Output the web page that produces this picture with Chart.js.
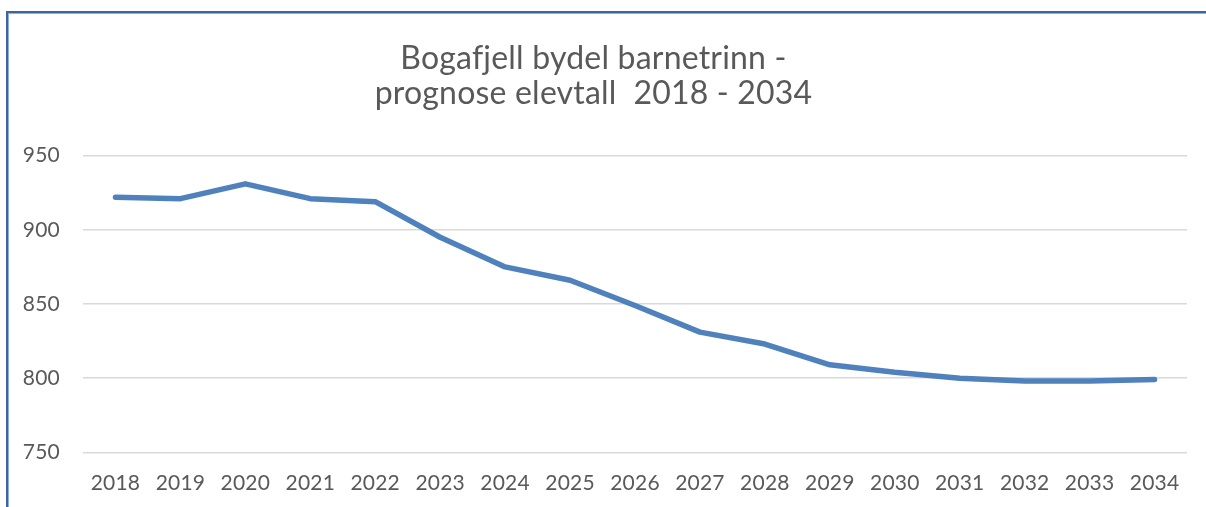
<!DOCTYPE html>
<html>
<head>
<meta charset="utf-8">
<script src="https://cdn.jsdelivr.net/npm/chart.js@4.4.1/dist/chart.umd.min.js"></script>
<style>
  html, body { margin: 0; padding: 0; background: #ffffff; overflow: hidden; }
  #frame { position: absolute; left: 6px; top: 11px; width: 1400px; height: 700px;
           border-left: 2px solid #3d679c; border-top: 2px solid #3d679c; box-shadow: inset 1px 1px 0 #8fb0d6; }
  #wrap { position: absolute; left: 0; top: 0; width: 1206px; height: 507px; }
</style>
</head>
<body>
<div id="frame"></div>
<div id="wrap"><canvas id="c" width="1206" height="507"></canvas></div>
<script>
const years = ['2018','2019','2020','2021','2022','2023','2024','2025','2026','2027','2028','2029','2030','2031','2032','2033','2034'];
const pupils = [922, 921, 931, 921, 919, 895, 875, 866, 849, 831, 823, 809, 804, 800, 798, 798, 799];
const titleLines = ['Bogafjell bydel barnetrinn -', 'prognose elevtall  2018 - 2034'];
const yMin = 750, yMax = 950, yStep = 50;

const noLigatures = {
  id: 'noLigatures',
  beforeDraw(chart) { if ('letterSpacing' in chart.ctx) chart.ctx.letterSpacing = '0.2px'; }
};

new Chart(document.getElementById('c'), {
  type: 'line',
  data: {
    labels: years,
    datasets: [{
      label: 'Elevtall',
      data: pupils,
      borderColor: '#4f81bd',
      backgroundColor: '#4f81bd',
      borderWidth: 5.5,
      pointRadius: 0,
      pointHoverRadius: 0,
      tension: 0,
      borderCapStyle: 'round',
      borderJoinStyle: 'round',
      fill: false
    }]
  },
  plugins: [noLigatures],
  options: {
    responsive: false,
    animation: false,
    layout: { padding: { left: 0, right: 19, top: 0, bottom: 0 } },
    plugins: {
      legend: { display: false },
      tooltip: { enabled: false },
      title: {
        display: true,
        text: titleLines,
        color: '#595959',
        font: { family: 'Lato', size: 32, weight: 'normal', lineHeight: 1.09 },
        padding: { top: 41, bottom: 44.9 }
      }
    },
    scales: {
      x: {
        offset: true,
        grid: { display: false },
        border: { display: false },
        ticks: { color: '#595959', font: { family: 'Lato', size: 21 }, padding: 10, maxRotation: 0, autoSkip: false },
        afterFit: (s) => { s.height = 54.7; }
      },
      y: {
        min: yMin, max: yMax,
        grid: { color: '#d9d9d9', lineWidth: 1.5, drawTicks: false },
        border: { display: false },
        ticks: { stepSize: yStep, color: '#595959', font: { family: 'Lato', size: 21 }, padding: 23 },
        afterFit: (s) => { s.width = 83; }
      }
    }
  }
});
</script>
</body>
</html>
